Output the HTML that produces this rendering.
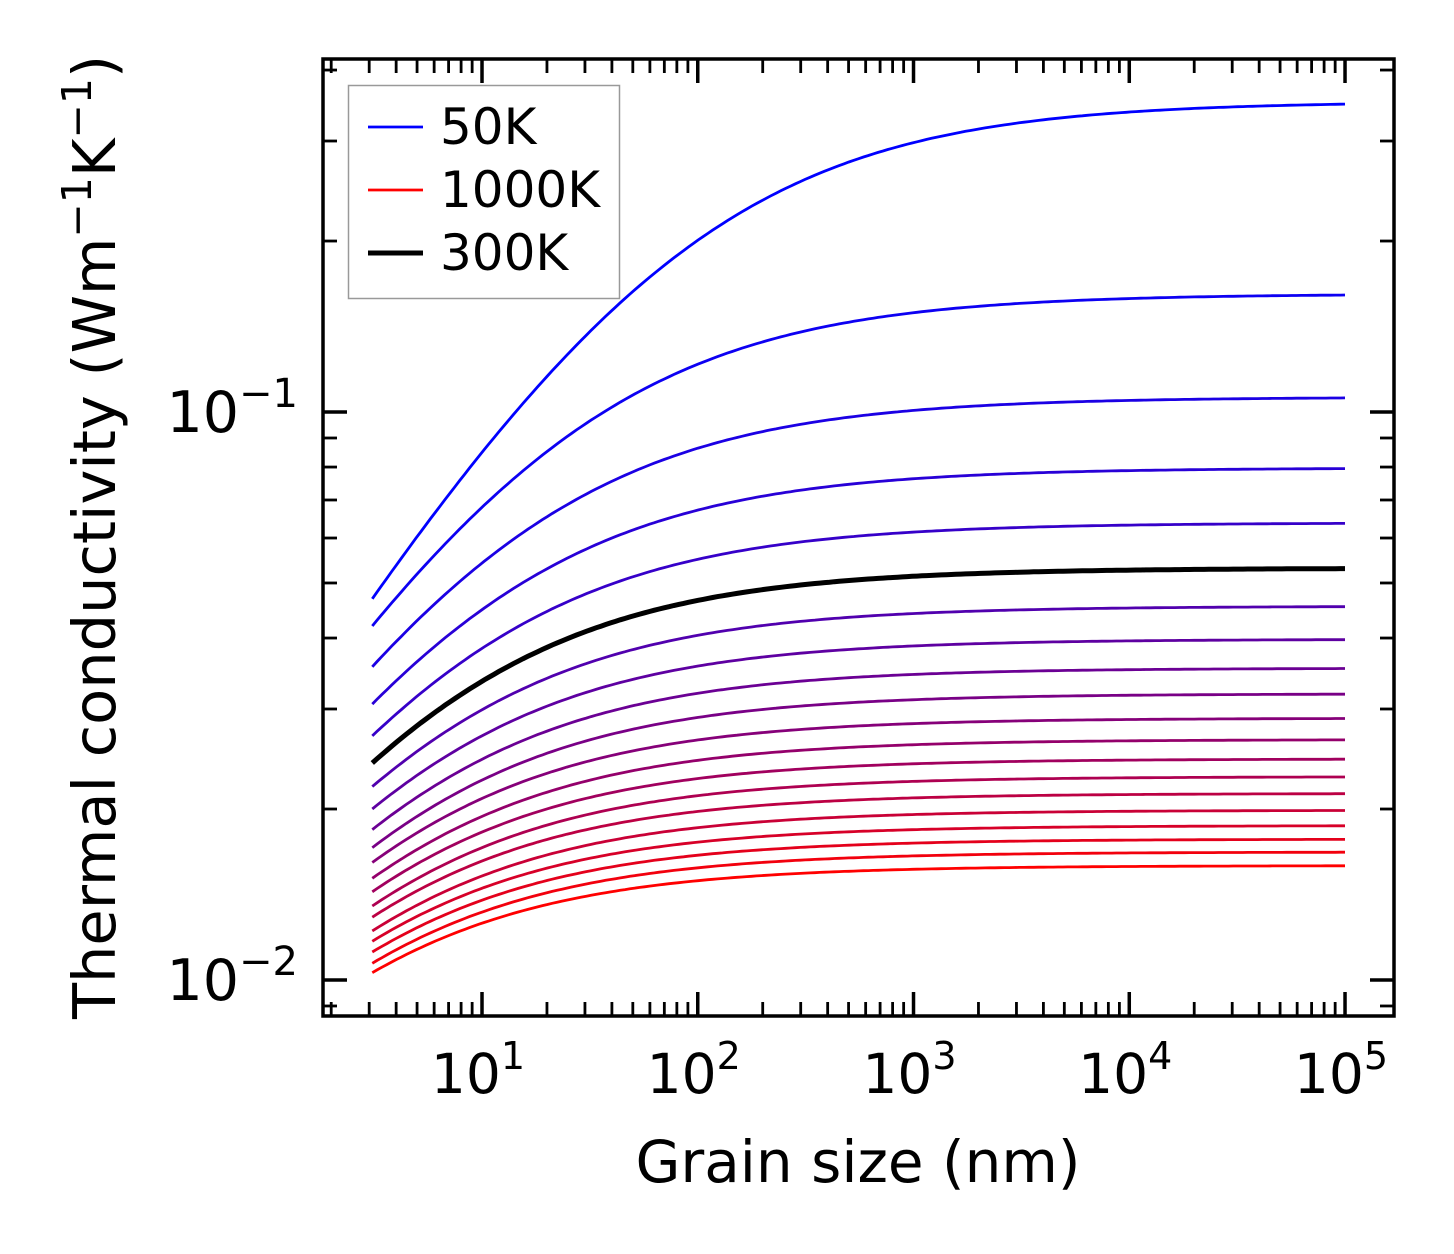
<!DOCTYPE html>
<html><head><meta charset="utf-8"><style>
html,body{margin:0;padding:0;background:#fff}
svg{display:block}
text{font-family:"DejaVu Sans","Liberation Sans",sans-serif;fill:#000}
</style></head><body>
<svg id="chart" width="1454" height="1254" xmlns="http://www.w3.org/2000/svg"></svg>
<script>
// Data
const temperatures = [50,100,150,200,250,300,350,400,450,500,550,600,650,700,750,800,850,900,950,1000];
const kStart = [0.0469,0.0420,0.0356,0.0306,0.0269,0.0241,0.0219,0.0200,0.0184,0.0171,0.0161,0.0151,0.0143,0.0135,0.0129,0.0122,0.0117,0.0112,0.0107,0.0103];
const kPlateau = [0.352,0.1614,0.1062,0.0797,0.0638,0.0531,0.0455,0.0398,0.0354,0.0319,0.0289,0.0265,0.0245,0.0228,0.0213,0.0199,0.0187,0.0177,0.0168,0.0159];
const grainMin = 3.1, grainMax = 1e5;
const xTickVals = [1,2,3,4,5];
const yTickVals = [-2,-1];

const NS="http://www.w3.org/2000/svg";
const svg=document.getElementById('chart');
const L=323,R=1394,T=59,B=1016;
const xMinLog=0.263,xMaxLog=5.227,yMinLog=-2.0634,yMaxLog=-0.3785;
const xs=v=>L+(Math.log10(v)-xMinLog)/(xMaxLog-xMinLog)*(R-L);
const ys=v=>B-(Math.log10(v)-yMinLog)/(yMaxLog-yMinLog)*(B-T);
function el(tag,attrs,parent){const e=document.createElementNS(NS,tag);for(const k in attrs)e.setAttribute(k,attrs[k]);(parent||svg).appendChild(e);return e;}

const curves=el('g',{});


temperatures.forEach((T0,i)=>{
  const k0=kStart[i],ki=kPlateau[i];
  const a=ki/k0-1;
  let d='';
  for(let j=0;j<=200;j++){
    const lg=Math.log10(grainMin)+(Math.log10(grainMax)-Math.log10(grainMin))*j/200;
    const g=Math.pow(10,lg);
    const k=ki/(1+a*Math.pow(grainMin/g,0.62));
    d+=(j?'L':'M')+xs(g).toFixed(1)+','+ys(k).toFixed(1);
  }
  const f=i/(temperatures.length-1);
  const col=T0===300?'#000':`rgb(${Math.round(255*f)},0,${Math.round(255*(1-f))})`;
  const p=el('path',{d:d,fill:'none',stroke:col,'stroke-width':T0===300?5:2.8},curves);
  
  
});

const frame=el('rect',{x:L,y:T,width:R-L,height:B-T,fill:'none',stroke:'#000','stroke-width':3.5});



const ticks=el('g',{stroke:'#000'});


for(let d=0;d<=5;d++){for(let m=1;m<10;m++){const v=m*Math.pow(10,d);const x=xs(v);if(x<L||x>R)continue;const len=m===1?24:14;const w=m===1?3.5:2.8;
 el('line',{x1:x,y1:B,x2:x,y2:B-len,'stroke-width':w},ticks);el('line',{x1:x,y1:T,x2:x,y2:T+len,'stroke-width':w},ticks);}}
for(let d=-3;d<=0;d++){for(let m=1;m<10;m++){const v=m*Math.pow(10,d);const y=ys(v);if(y<T||y>B)continue;const len=m===1?24:14;const w=m===1?3.5:2.8;
 el('line',{x1:L,y1:y,x2:L+len,y2:y,'stroke-width':w},ticks);el('line',{x1:R,y1:y,x2:R-len,y2:y,'stroke-width':w},ticks);}}

xTickVals.forEach(e=>{const t=el('text',{x:xs(Math.pow(10,e))-4,y:1093,'font-size':55,'text-anchor':'middle'});
 
 
 t.innerHTML='10<tspan dy="-24" font-size="38">'+e+'</tspan>';});
yTickVals.forEach(e=>{const t=el('text',{x:298,y:ys(Math.pow(10,e))+20,'font-size':57,'text-anchor':'end'});
 
 
 t.innerHTML='10<tspan dy="-25" font-size="40">−'+(-e)+'</tspan>';});

const xl=el('text',{x:858,y:1182,'font-size':58,'text-anchor':'middle'});


xl.textContent='Grain size (nm)';
const yl=el('text',{x:0,y:0,'font-size':59,'text-anchor':'middle',transform:'translate(115,537) rotate(-90)'});


yl.innerHTML='Thermal conductivity (Wm<tspan dy="-24" font-size="41">−1</tspan><tspan dy="24">K</tspan><tspan dy="-24" font-size="41">−1</tspan><tspan dy="24">)</tspan>';

const lg=el('g',{});


el('rect',{x:348.5,y:85.5,width:271,height:213,fill:'#fff',stroke:'#999','stroke-width':1.5},lg);
const entries=[['50K','rgb(0,0,255)',2.8,127],['1000K','rgb(255,0,0)',2.8,190],['300K','#000',5,253]];
entries.forEach(([lab,c,w,y])=>{
 const g=el('g',{},lg);
 
 
 el('line',{x1:368,y1:y,x2:423,y2:y,stroke:c,'stroke-width':w},g);
 const t=el('text',{x:440,y:y+17,'font-size':50},g);t.textContent=lab;
});
</script>
</body></html>
